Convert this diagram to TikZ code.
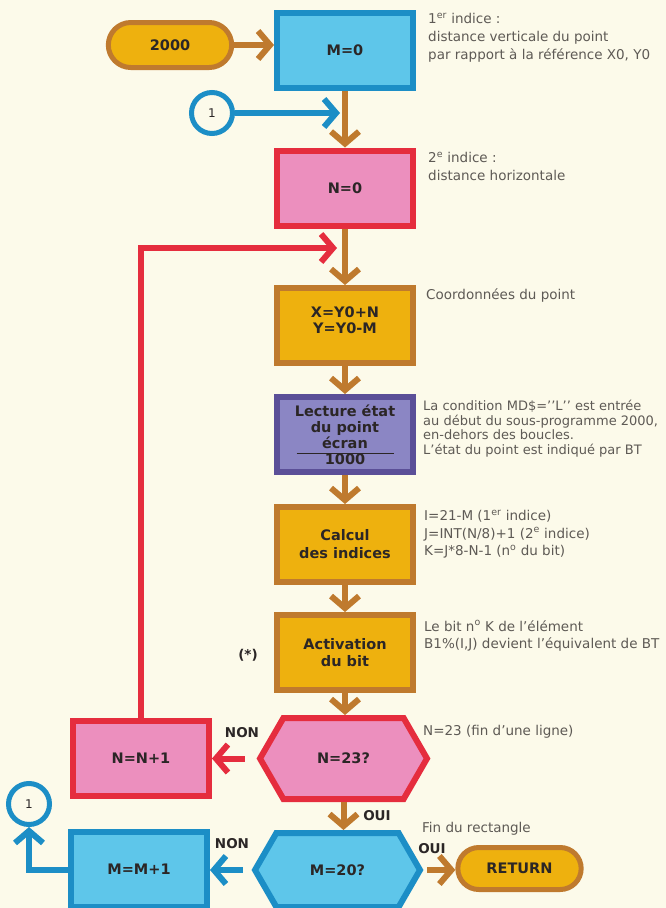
\documentclass[tikz,border=0pt]{standalone}
\usepackage{fontspec}
\setmainfont{DejaVu Sans}
\usetikzlibrary{arrows.meta,shapes.misc,shapes.symbols}

\definecolor{papier}{HTML}{FCFAEA}
\definecolor{ocre}{HTML}{BF7A2E}
\definecolor{jaune}{HTML}{EEB10E}
\definecolor{bleu}{HTML}{1C8EC6}
\definecolor{ciel}{HTML}{5EC6EA}
\definecolor{rouge}{HTML}{E52D3E}
\definecolor{rose}{HTML}{EC8FBE}
\definecolor{violet}{HTML}{5B4F98}
\definecolor{lilas}{HTML}{8B86C4}
\definecolor{encre}{HTML}{2B2626}
\definecolor{gris}{HTML}{5E5A55}

\newcommand\textboite{\fontsize{14.5}{16}\selectfont\bfseries}
\newcommand\textnote{\fontsize{13.5}{18}\selectfont}

\tikzset{
  boite/.style={draw, line width=6pt, minimum width=136pt, minimum height=75pt,
    align=center, text=encre, font=\textboite},
  jauneboite/.style={boite, draw=ocre, fill=jaune},
  bleuboite/.style={boite, draw=bleu, fill=ciel},
  rougeboite/.style={boite, draw=rouge, fill=rose},
  lilasboite/.style={boite, draw=violet, fill=lilas},
  hexa/.style={shape=signal, signal to=west and east, signal pointer angle=120,
    draw, line width=6pt, minimum width=167pt, minimum height=81pt,
    text=encre, font=\textboite},
  pilule/.style={shape=rounded rectangle, draw=ocre, fill=jaune, line width=5pt,
    minimum width=130pt, minimum height=45pt, text=encre, font=\textboite},
  rond/.style={circle, draw=bleu, line width=5pt, minimum size=41pt, inner sep=0pt,
    text=encre, font=\fontsize{12}{12}\selectfont},
  etiq/.style={inner sep=0pt, text=encre, font=\fontsize{13.5}{14}\selectfont\bfseries},
  note/.style={anchor=north west, inner sep=0pt, align=left, text=gris, font=\textnote},
  fleche/.style={draw=#1, line width=6pt, -{Straight Barb[length=12pt,width=28pt]}}
}

\begin{document}
\begin{tikzpicture}[x=1pt, y=-1pt]

\useasboundingbox (0,0) rectangle (666,908);
\fill[papier] (0,0) rectangle (666,908);

% ---- main column ----
\node[pilule] (debut) at (170,45) {2000};
\node[bleuboite] (mzero) at (345,50.5) {M=0};
\node[rond] (renvoiA) at (212,113) {1};
\node[rougeboite] (nzero) at (345,188) {N=0};
\node[jauneboite, text depth=10pt] (coord) at (345,325.5) {X=Y0+N\\Y=Y0-M};
\node[lilasboite, font=\fontsize{14.5}{16}\selectfont\bfseries] (lecture) at (345,434.5)
    {Lecture état\\du point\\écran\\1000};
\draw[encre, line width=1.2pt] ([yshift=-19pt]lecture.center) ++(-48.5,0) -- ++(97,0);
\node[jauneboite, font=\fontsize{14.5}{18}\selectfont\bfseries] (calcul) at (345,544.5)
    {Calcul\\des indices};
\node[jauneboite, font=\fontsize{14.5}{17}\selectfont\bfseries] (activ) at (345,652.5)
    {Activation\\du bit};
\node[etiq] (etoile) at (248,655) {(*)};

% ---- tests ----
\node[hexa, draw=rouge, fill=rose] (testN) at (343.5,758.5) {N=23?};
\node[rougeboite] (incN) at (141,758.5) {N=N+1};
\node[hexa, draw=bleu, fill=ciel, minimum width=165pt, minimum height=74pt] (testM) at (337.5,870) {M=20?};
\node[bleuboite] (incM) at (139,869.5) {M=M+1};
\node[pilule, minimum height=42pt] (fin) at (519.5,868.5) {RETURN};
\node[rond] (renvoiB) at (29,804) {1};

\node[etiq] (nonN) at (242,733) {NON};
\node[etiq] (ouiN) at (377,816) {OUI};
\node[etiq] (nonM) at (232,844) {NON};
\node[etiq] (ouiM) at (432,849) {OUI};

% ---- comments on the right ----
\node[note] (remA) at (428,13) {1\textsuperscript{er} indice :\\distance verticale du point\\par rapport à la référence X0, Y0};
\node[note] (remB) at (428,152) {2\textsuperscript{e} indice :\\distance horizontale};
\node[note] (remC) at (426,288) {Coordonnées du point};
\node[note, font=\fontsize{13}{14.5}\selectfont] (remD) at (423,400)
    {La condition MD\$=’’L’’ est entrée\\au début du sous-programme 2000,\\en-dehors des boucles.\\L’état du point est indiqué par BT};
\node[note, font=\fontsize{13.5}{17.5}\selectfont] (remE) at (424,510)
    {I=21-M (1\textsuperscript{er} indice)\\J=INT(N/8)+1 (2\textsuperscript{e} indice)\\K=J*8-N-1 (n\textsuperscript{o} du bit)};
\node[note, font=\fontsize{13.5}{17}\selectfont] (remF) at (424,620)
    {Le bit n\textsuperscript{o} K de l’élément\\B1\%(I,J) devient l’équivalent de BT};
\node[note] (remG) at (423,725) {N=23 (fin d’une ligne)};
\node[note] (remH) at (422,822) {Fin du rectangle};

% ---- connectors ----
\coordinate (boucle) at (337,248);
\draw[fleche=rouge] (incN.north) |- (boucle);
\draw[fleche=bleu, shorten >=5pt] (renvoiA) -- (renvoiA -| mzero);
\draw[fleche=ocre] (debut.east) -- (debut.east -| mzero.west);
\draw[fleche=ocre] (mzero) -- (nzero);
\draw[fleche=ocre] (nzero) -- (coord);
\draw[fleche=ocre] (coord) -- (lecture);
\draw[fleche=ocre] (lecture) -- (calcul);
\draw[fleche=ocre] (calcul) -- (activ);
\draw[fleche=ocre] (activ.south) -- (activ.south |- testN.north);
\draw[fleche=rouge, shorten <=12pt] (testN.west) -- (incN.east);
\draw[fleche=ocre] (testN.south) -- (testN.south |- testM.north);
\draw[fleche=bleu, shorten <=9pt] (testM.west) -- (testM.west -| incM.east);
\draw[fleche=ocre, shorten <=4pt] (testM.east) -- (testM.east -| fin.west);
\draw[fleche=bleu] (incM.west) -| (renvoiB.south);

\end{tikzpicture}
\end{document}
